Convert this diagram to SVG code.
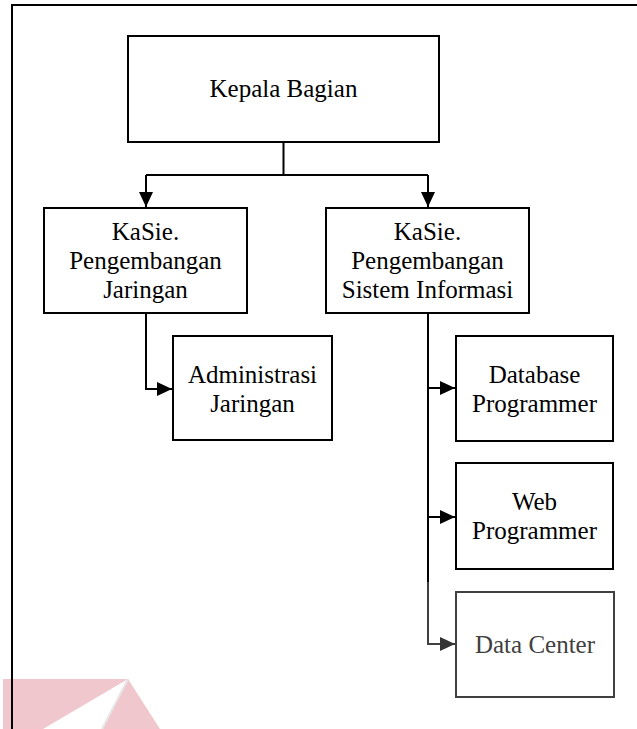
<svg xmlns="http://www.w3.org/2000/svg" width="637" height="729" viewBox="0 0 637 729">
  <style>
    .box { fill: #ffffff; stroke: #000000; stroke-width: 2; }
    .box.gray { stroke: #404040; }
    .lbl { font-family: "Liberation Serif", "Times New Roman", serif; font-size: 25px; fill: #000000; text-anchor: middle; }
    .lbl.gray { fill: #404040; }
    .conn { fill: none; stroke: #000000; stroke-width: 2; }
    .conn.gray { stroke: #404040; }
    .frame { fill: none; stroke: #000000; stroke-width: 2; }
    .wm { fill: #efc7cc; }
  </style>
  <defs>
    <marker id="arrow" markerUnits="userSpaceOnUse" markerWidth="16" markerHeight="14" refX="15" refY="7" orient="auto">
      <path d="M0,0 L15,7 L0,14 z" fill="#000000"/>
    </marker>
    <marker id="arrowGray" markerUnits="userSpaceOnUse" markerWidth="16" markerHeight="14" refX="15" refY="7" orient="auto">
      <path d="M0,0 L15,7 L0,14 z" fill="#333333"/>
    </marker>
  </defs>

  <rect x="0" y="0" width="637" height="729" fill="#ffffff"/>

  <!-- watermark -->
  <g id="watermark">
    <polygon class="wm" points="3,679 128,679 43,729 3,729"/>
    <polygon class="wm" points="128,679 160,729 103,729"/>
    <line x1="128" y1="679" x2="102" y2="729" stroke="#e6e6e6" stroke-width="2"/>
  </g>

  <!-- page frame -->
  <g id="frame">
    <path class="frame" d="M12,729 L12,5 L637,5"/>
  </g>

  <!-- connectors -->
  <g id="connectors">
    <path class="conn" d="M283.5,142 L283.5,175"/>
    <path class="conn" d="M146,175 L428,175"/>
    <path class="conn" d="M146,175 L146,207" marker-end="url(#arrow)"/>
    <path class="conn" d="M428,175 L428,207" marker-end="url(#arrow)"/>
    <path class="conn" d="M146,313 L146,389 L172,389" marker-end="url(#arrow)"/>
    <path class="conn" d="M428,313 L428,583"/>
    <path class="conn" d="M428,388 L455,388" marker-end="url(#arrow)"/>
    <path class="conn" d="M428,517 L455,517" marker-end="url(#arrow)"/>
    <path class="conn gray" d="M428,582 L428,644 L455,644" marker-end="url(#arrowGray)"/>
  </g>

  <g id="kepala-bagian">
    <rect class="box" x="128" y="36" width="311" height="106"/>
    <text class="lbl" x="283.5" y="97">Kepala Bagian</text>
  </g>

  <g id="kasie-jaringan">
    <rect class="box" x="44" y="208" width="203" height="105"/>
    <text class="lbl" x="145.5" y="240">KaSie.</text>
    <text class="lbl" x="145.5" y="269">Pengembangan</text>
    <text class="lbl" x="145.5" y="298">Jaringan</text>
  </g>

  <g id="kasie-si">
    <rect class="box" x="326" y="208" width="203" height="105"/>
    <text class="lbl" x="427.5" y="240">KaSie.</text>
    <text class="lbl" x="427.5" y="269">Pengembangan</text>
    <text class="lbl" x="427.5" y="298">Sistem Informasi</text>
  </g>

  <g id="administrasi-jaringan">
    <rect class="box" x="173" y="336" width="159" height="104"/>
    <text class="lbl" x="252.5" y="383">Administrasi</text>
    <text class="lbl" x="252.5" y="412">Jaringan</text>
  </g>

  <g id="database-programmer">
    <rect class="box" x="456" y="336" width="157" height="105"/>
    <text class="lbl" x="534.5" y="383">Database</text>
    <text class="lbl" x="534.5" y="412">Programmer</text>
  </g>

  <g id="web-programmer">
    <rect class="box" x="456" y="463" width="157" height="106"/>
    <text class="lbl" x="534.5" y="510">Web</text>
    <text class="lbl" x="534.5" y="539">Programmer</text>
  </g>

  <g id="data-center">
    <rect class="box gray" x="456" y="592" width="158" height="105"/>
    <text class="lbl gray" x="535" y="653">Data Center</text>
  </g>
</svg>
